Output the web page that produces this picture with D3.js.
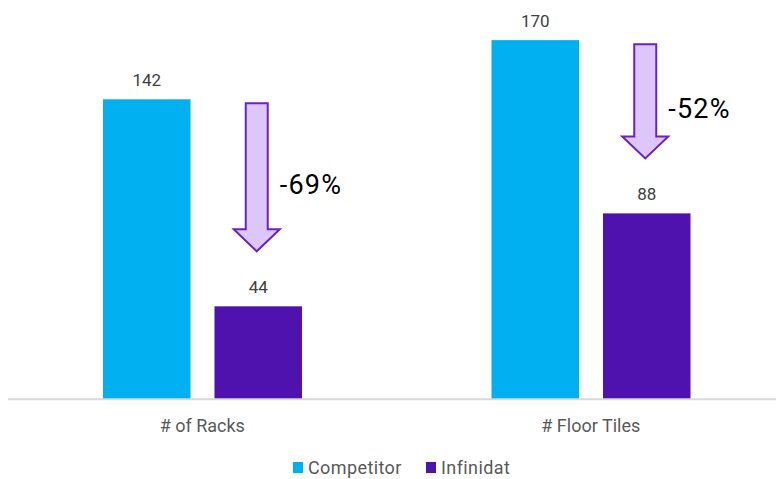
<!DOCTYPE html>
<html lang="en">
<head>
    <meta charset="UTF-8">
    <title>Competitor vs Infinidat</title>
    <style>
        body { margin: 0; background: #fff; }
        text { font-family: Roboto, "Liberation Sans", sans-serif; }
    </style>
</head>
<body>
<script src="https://d3js.org/d3.v7.min.js"></script>
<script>
    const categories = ["# of Racks", "# Floor Tiles"];
    const series = ["Competitor", "Infinidat"];
    const competitor = [142, 170];
    const infinidat = [44, 88];
    const changes = ["-69%", "-52%"];
    const colors = ["#00B0F0", "#5012AF"];

    const width = 776, height = 479;

    const svg = d3.select("body")
        .append("svg")
        .attr("width", width)
        .attr("height", height);

    const x0 = d3.scaleBand()
        .domain(categories)
        .range([8, 785]);

    // bars sit in the middle of each band
    const x1 = d3.scaleBand()
        .domain(series)
        .range([95, 294])
        .paddingInner(0.215);

    const y = d3.scaleLinear()
        .domain([0, 180])
        .range([399.3, 19]);

    const rows = categories.map((c, i) => ({cat: c, values: [competitor[i], infinidat[i]], change: changes[i]}));

    const groups = svg.selectAll("g.grp")
        .data(rows)
        .join("g")
        .attr("class", "grp")
        .attr("transform", d => `translate(${x0(d.cat)},0)`);

    groups.selectAll("rect")
        .data(d => d.values.map((v, j) => ({s: series[j], v: v, c: colors[j]})))
        .join("rect")
        .attr("x", d => x1(d.s))
        .attr("width", x1.bandwidth())
        .attr("y", d => y(d.v))
        .attr("height", d => y(0) - y(d.v))
        .attr("fill", d => d.c);

    groups.selectAll("text.val")
        .data(d => d.values.map((v, j) => ({s: series[j], v: v})))
        .join("text")
        .attr("class", "val")
        .attr("x", d => x1(d.s) + x1.bandwidth() / 2)
        .attr("y", d => y(d.v) - 13)
        .attr("text-anchor", "middle")
        .attr("font-size", 17)
        .attr("fill", "#404040")
        .text(d => d.v);

    // down arrows from competitor height to above the infinidat bar
    groups.each(function (d) {
        const g = d3.select(this);
        const cx = x1("Infinidat") + x1.bandwidth() / 2 - 1.5;
        const top = y(d.values[0]) + 4;
        const tip = y(d.values[1]) - 55;
        const neck = tip - 22;
        const sw = 11, hw = 23;
        const pts = [
            [cx - sw, top], [cx + sw, top], [cx + sw, neck], [cx + hw, neck],
            [cx, tip], [cx - hw, neck], [cx - sw, neck]
        ];
        g.append("path")
            .attr("d", d3.line()(pts) + "Z")
            .attr("fill", "#DCC6FA")
            .attr("stroke", "#6A22C8")
            .attr("stroke-width", 2);
        g.append("text")
            .attr("x", cx + 23)
            .attr("y", (top + tip) / 2 + 17)
            .attr("font-size", 27)
            .attr("font-family", "'Liberation Sans', Arial, sans-serif")
            .attr("letter-spacing", 1.2)
            .attr("fill", "#000")
            .text(d.change);
    });

    svg.append("line")
        .attr("x1", 8).attr("x2", width)
        .attr("y1", y(0)).attr("y2", y(0))
        .attr("stroke", "#d9d9d9")
        .attr("stroke-width", 2);

    const xAxis = svg.append("g")
        .attr("transform", `translate(0,${y(0)})`)
        .call(d3.axisBottom(x0).tickSize(0).tickPadding(0));
    xAxis.select(".domain").remove();
    xAxis.selectAll("text")
        .attr("dy", 0)
        .attr("y", 33)
        .attr("font-size", 18)
        .attr("font-family", "Roboto, sans-serif")
        .attr("fill", "#595959");

    // legend
    const legend = svg.append("g");
    const legX = [293, 426];
    series.forEach((s, i) => {
        legend.append("rect")
            .attr("x", legX[i]).attr("y", 462)
            .attr("width", 10).attr("height", 11)
            .attr("fill", colors[i]);
        legend.append("text")
            .attr("x", legX[i] + 15).attr("y", 474)
            .attr("font-size", 18)
            .attr("letter-spacing", 0.4)
            .attr("fill", "#595959")
            .text(s);
    });
</script>
</body>
</html>
